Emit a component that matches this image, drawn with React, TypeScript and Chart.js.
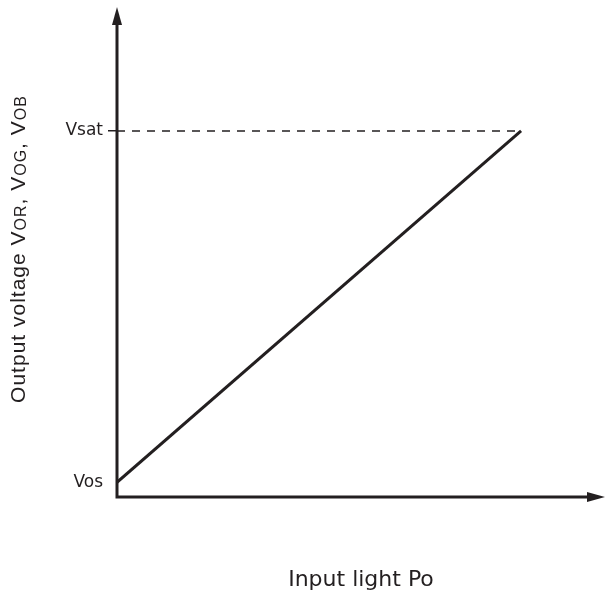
import React, { useEffect, useRef } from 'react';
import { Chart, registerables } from 'chart.js';

Chart.register(...registerables);

// ---- data ----
const inputLight = [0, 82.8];
const outputVoltage = [3, 74.7];
const levelLabels = ['Vos', 'Vsat'];
const levelValues = [3, 74.7];
const xTitle = 'Input light Po';
const yTitleParts = [
  { text: 'Output voltage V', sub: false },
  { text: 'OR', sub: true },
  { text: ', V', sub: false },
  { text: 'OG', sub: true },
  { text: ', V', sub: false },
  { text: 'OB', sub: true },
];

const INK = '#231f20';

const arrowAxes = {
  id: 'arrowAxes',
  afterDatasetsDraw(chart: any) {
    const { ctx, chartArea } = chart;
    const { left, right, top, bottom } = chartArea;
    const head = 18;
    const half = 5;
    ctx.save();
    ctx.strokeStyle = INK;
    ctx.fillStyle = INK;
    ctx.lineWidth = 3;
    ctx.lineJoin = 'miter';
    ctx.beginPath();
    ctx.moveTo(left, top + head - 2);
    ctx.lineTo(left, bottom);
    ctx.lineTo(right - head + 2, bottom);
    ctx.stroke();
    ctx.beginPath();
    ctx.moveTo(right, bottom);
    ctx.lineTo(right - head, bottom - half);
    ctx.lineTo(right - head, bottom + half);
    ctx.closePath();
    ctx.fill();
    ctx.beginPath();
    ctx.moveTo(left, top);
    ctx.lineTo(left - half, top + head);
    ctx.lineTo(left + half, top + head);
    ctx.closePath();
    ctx.fill();

    // rotated y title with subscripts
    const mainFont = '21px "Liberation Sans", Arial, sans-serif';
    const subFont = '16px "Liberation Sans", Arial, sans-serif';
    (ctx as any).letterSpacing = '1px';
    let total = 0;
    const widths = yTitleParts.map((p) => {
      ctx.font = p.sub ? subFont : mainFont;
      const w = ctx.measureText(p.text).width;
      total += w;
      return w;
    });
    const centerY = (top + bottom) / 2 - 3;
    ctx.translate(25, centerY);
    ctx.rotate(-Math.PI / 2);
    ctx.textBaseline = 'alphabetic';
    ctx.textAlign = 'left';
    let x = -total / 2;
    yTitleParts.forEach((p, i) => {
      ctx.font = p.sub ? subFont : mainFont;
      ctx.fillText(p.text, x, p.sub ? 1 : 0);
      x += widths[i];
    });
    ctx.restore();
  },
};

export default function App() {
  const ref = useRef<HTMLCanvasElement | null>(null);

  useEffect(() => {
    if (!ref.current) return;
    const chart = new Chart(ref.current, {
      type: 'line',
      data: {
        datasets: [
          {
            data: inputLight.map((x, i) => ({ x, y: outputVoltage[i] })),
            borderColor: INK,
            borderWidth: 3,
            pointRadius: 0,
            tension: 0,
          },
          {
            data: [
              { x: inputLight[0], y: levelValues[1] },
              { x: inputLight[1], y: levelValues[1] },
            ],
            borderColor: INK,
            borderWidth: 1.5,
            borderDash: [8, 7],
            pointRadius: 0,
          },
        ],
      },
      options: {
        animation: false,
        responsive: false,
        devicePixelRatio: 1,
        layout: { padding: { top: 7, left: 0, right: 0, bottom: 0 } },
        plugins: { legend: { display: false }, tooltip: { enabled: false } },
        scales: {
          x: {
            type: 'linear',
            min: 0,
            max: 100,
            ticks: { display: false },
            grid: { display: false },
            border: { display: false },
            title: {
              display: true,
              text: xTitle,
              color: INK,
              font: { family: '"DejaVu Sans", sans-serif', size: 22 },
              padding: { top: 0, bottom: 4 },
            },
            afterFit(s: any) {
              s.height = 100;
              s.paddingLeft = 0;
              s.paddingRight = 0;
            },
          },
          y: {
            type: 'linear',
            min: 0,
            max: 100,
            afterBuildTicks(s: any) {
              s.ticks = levelValues.map((v) => ({ value: v }));
            },
            ticks: {
              autoSkip: false,
              callback: (_v: any, i: number) => levelLabels[i],
              color: INK,
              font: { family: '"DejaVu Sans", sans-serif', size: 17 },
              padding: 5,
            },
            grid: {
              display: true,
              drawOnChartArea: false,
              drawTicks: true,
              tickLength: 9,
              lineWidth: 1.5,
              color: (c: any) =>
                c.tick && c.tick.value === levelValues[1] ? INK : 'rgba(0,0,0,0)',
            },
            border: { display: false },
            afterFit(s: any) {
              s.width = 117;
              s.paddingTop = 0;
              s.paddingBottom = 0;
            },
          },
        },
      },
      plugins: [arrowAxes],
    } as any);
    return () => chart.destroy();
  }, []);

  return (
    <div style={{ position: 'fixed', left: 0, top: 0, width: 605, height: 597, background: '#fff' }}>
      <canvas ref={ref} width={605} height={597} style={{ display: 'block' }} />
    </div>
  );
}
